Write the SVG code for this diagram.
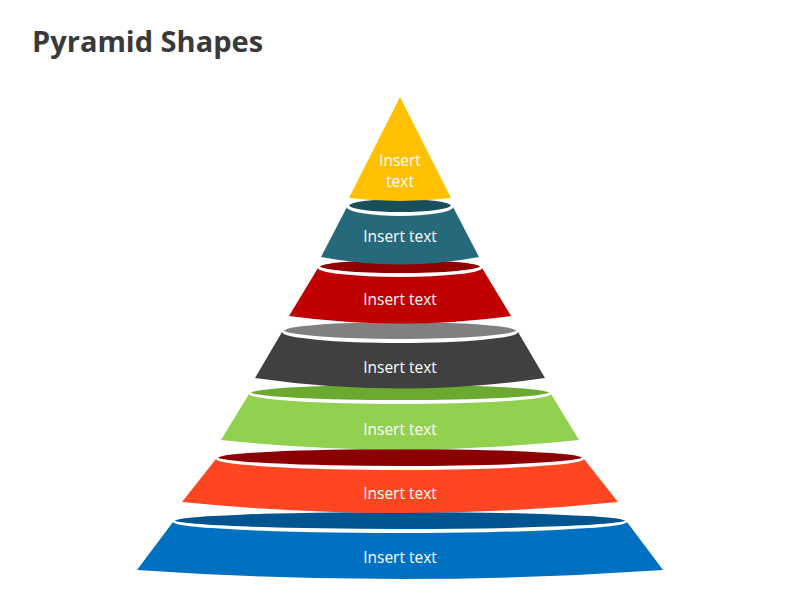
<svg xmlns="http://www.w3.org/2000/svg" width="800" height="600" viewBox="0 0 800 600">
<style>
.lbl{font-family:"Open Sans","Liberation Sans",sans-serif;font-size:15.5px;fill:#ffffff;text-anchor:middle}
.rim{fill:none;stroke:#ffffff;stroke-width:2}
.title{font-family:"Open Sans","Liberation Sans",sans-serif;font-size:29px;font-weight:bold;fill:#3a3a3a}
</style>
<rect width="800" height="600" fill="#ffffff"/>
<text class="title" x="32" y="52">Pyramid Shapes</text>
<g id="tier7">
<path d="M173,522 A227,11 0 0 0 627,522 L663,570 Q400,588 137,570 Z" fill="#0070C0"/>
<ellipse cx="400" cy="521" rx="225" ry="9" fill="#00548F"/>
<path class="rim" d="M175,521 A225,9 0 0 0 625,521"/>
<text class="lbl" x="400" y="563">Insert text</text>
</g>
<g id="tier6">
<path d="M216,459 A184,11 0 0 0 584,459 L618,502 Q400,524 182,502 Z" fill="#FF4623"/>
<ellipse cx="400" cy="458" rx="182" ry="9" fill="#8B0000"/>
<path class="rim" d="M218,458 A182,9 0 0 0 582,458"/>
<text class="lbl" x="400" y="499">Insert text</text>
</g>
<g id="tier5">
<path d="M249,394 A151,10 0 0 0 551,394 L579,440 Q400,459 221,440 Z" fill="#92D050"/>
<ellipse cx="400" cy="393" rx="149" ry="8" fill="#6AAA30"/>
<path class="rim" d="M251,393 A149,8 0 0 0 549,393"/>
<text class="lbl" x="400" y="435">Insert text</text>
</g>
<g id="tier4">
<path d="M282,332 A118,11 0 0 0 518,332 L545,378 Q400,399 255,378 Z" fill="#404040"/>
<ellipse cx="400" cy="331" rx="116" ry="9" fill="#808080"/>
<path class="rim" d="M284,331 A116,9 0 0 0 516,331"/>
<text class="lbl" x="400" y="373">Insert text</text>
</g>
<g id="tier3">
<path d="M318,268 A82,9 0 0 0 482,268 L511,316 Q400,331 289,316 Z" fill="#C00000"/>
<ellipse cx="400" cy="267" rx="80" ry="7" fill="#900000"/>
<path class="rim" d="M320,267 A80,7 0 0 0 480,267"/>
<text class="lbl" x="400" y="305">Insert text</text>
</g>
<g id="tier2">
<path d="M347,207 A53,9 0 0 0 453,207 L479,257 Q400,272 321,257 Z" fill="#26697A"/>
<ellipse cx="400" cy="206" rx="51" ry="7" fill="#1A4E5A"/>
<path class="rim" d="M349,206 A51,7 0 0 0 451,206"/>
<text class="lbl" x="400" y="242">Insert text</text>
</g>
<g id="tier1">
<path d="M400,97 L451,198 Q400,204 349,198 Z" fill="#FFC000"/>
<text class="lbl" x="400" y="166">Insert</text>
<text class="lbl" x="400" y="187">text</text>
</g>
</svg>
